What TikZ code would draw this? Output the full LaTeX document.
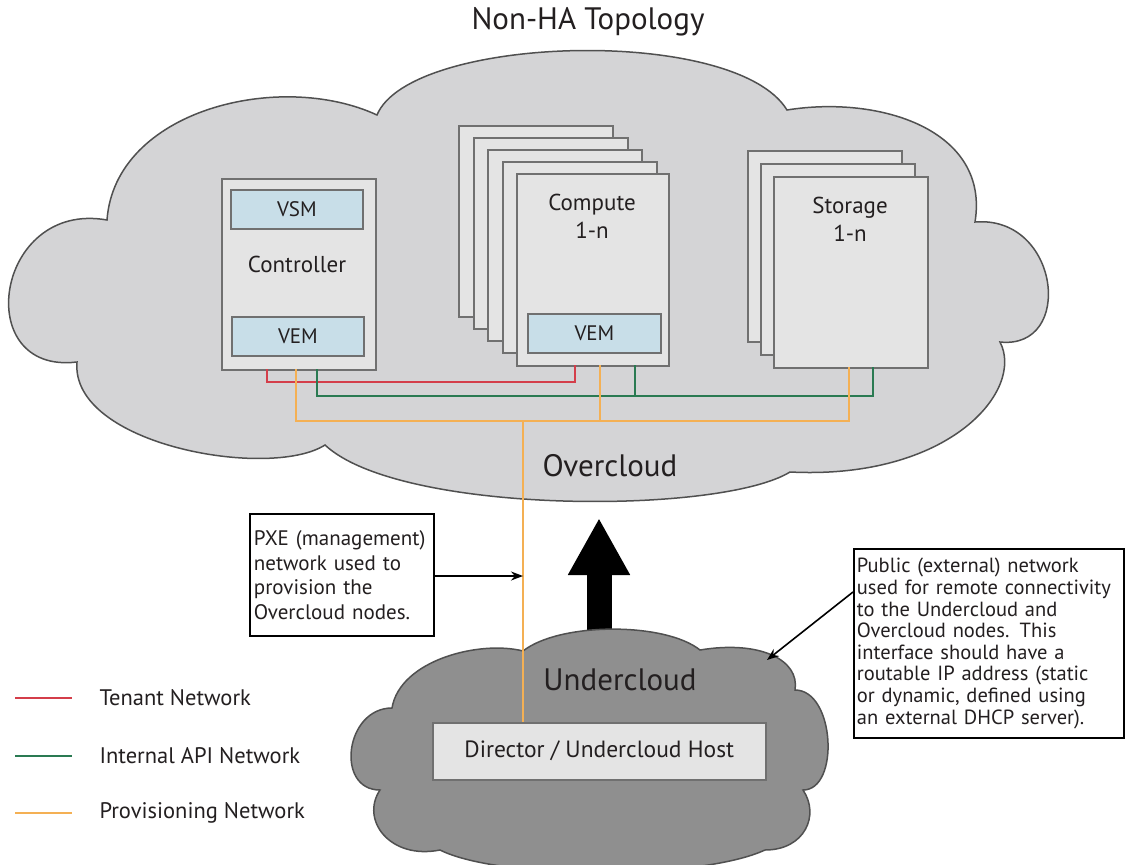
\documentclass[tikz,border=0pt]{standalone}
\usepackage{fontspec}
\setmainfont{PT Sans}
\usetikzlibrary{arrows.meta,calc}
\definecolor{txt}{RGB}{35,31,32}
\definecolor{ocfill}{RGB}{212,212,214}
\definecolor{ucfill}{RGB}{143,143,143}
\definecolor{cloudline}{RGB}{80,80,80}
\definecolor{boxfill}{RGB}{228,228,228}
\definecolor{boxline}{RGB}{112,112,112}
\definecolor{vfill}{RGB}{200,222,232}
\definecolor{tenantc}{RGB}{212,62,74}
\definecolor{apic}{RGB}{42,122,82}
\definecolor{provc}{RGB}{244,176,84}
\tikzset{
  server/.style={draw=boxline, line width=2pt, fill=boxfill, anchor=north west,
    minimum width=154pt, minimum height=191pt, inner sep=0pt},
  vbox/.style={draw=boxline, line width=1.8pt, fill=vfill, anchor=north west,
    minimum width=132pt, minimum height=39pt, inner sep=0pt, text=txt,
    font=\fontsize{21}{24}\selectfont},
  lbl/.style={text=txt, font=\fontsize{23}{28}\selectfont, align=center},
  bigl/.style={text=txt, font=\fontsize{31}{36}\selectfont},
  note/.style={draw=black, line width=1.8pt, fill=white, anchor=north west,
    align=left, text=txt, inner sep=0pt},
  tenant/.style={draw=tenantc, line width=2.6pt},
  api/.style={draw=apic, line width=2.6pt},
  prov/.style={draw=provc, line width=2.2pt},
  pointer/.style={draw=black, line width=1.6pt, -{Stealth[length=12pt,width=9pt]}},
  legtxt/.style={text=txt, anchor=west, font=\fontsize{22.5}{26}\selectfont}
}
\begin{document}
\begin{tikzpicture}[x=1pt,y=-1pt]
\useasboundingbox (0,0) rectangle (1128,865);
\clip (0,0) rectangle (1128,865);
\fill[white] (0,0) rectangle (1128,865);

% title
\node[bigl] (title) at (588,22) {Non-HA Topology};

% overcloud
\path[draw=cloudline, fill=ocfill, line width=1.5pt]
  (77,362) .. controls (-30,375) and (-5,200) .. (107,220)
  .. controls (115,110) and (280,70) .. (377,115)
  .. controls (410,35) and (735,25) .. (787,110)
  .. controls (880,95) and (990,130) .. (975,222)
  .. controls (1060,215) and (1075,350) .. (1000,342)
  .. controls (1025,390) and (950,480) .. (790,472)
  .. controls (720,515) and (400,515) .. (325,445)
  .. controls (270,480) and (70,445) .. (77,362) -- cycle;

% controller
\node[server] (ctrl) at (221,178) {};
\node[vbox] (vsm) at (230,189) {VSM};
\node[vbox] (cvem) at (231,316) {VEM};
\node[lbl] (ctrllbl) at (297,264) {Controller};

% compute stack
\node[server] (comp1) at (458,125) {};
\node[server] (comp2) at (473,137) {};
\node[server] (comp3) at (487,149) {};
\node[server] (comp4) at (502,161) {};
\node[server, minimum width=152pt, minimum height=192pt] (comp) at (516,173) {};
\node[lbl] (complbl) at (592,216) {Compute\\1-n};
\node[vbox, minimum width=133pt] (compvem) at (527,313) {VEM};

% storage stack
\node[server] (stor1) at (747,150) {};
\node[server] (stor2) at (760,163) {};
\node[server] (stor) at (773,176) {};
\node[lbl] (storlbl) at (850,219) {Storage\\1-n};

% attachment points
\coordinate (ctrlT) at (267,369);
\coordinate (ctrlP) at (296,369);
\coordinate (ctrlA) at (317,369);
\coordinate (compT) at (575,365);
\coordinate (compP) at (600,365);
\coordinate (compA) at (635,365);
\coordinate (storP) at (849,367);
\coordinate (storA) at (873,367);
\coordinate (provJ) at (523,421);

% networks
\draw[tenant] (ctrlT) -- ++(0,13) -| (compT);
\draw[api] (ctrlA) -- ++(0,27) -| (storA);
\draw[api] (compA) -- (compA |- 0,396);
\draw[prov] (ctrlP) -- ++(0,52) -| (storP);
\draw[prov] (compP) -- (compP |- provJ);

\node[bigl] (oclbl) at (610,466) {Overcloud};

% big arrow undercloud -> overcloud
\coordinate (arrS) at (599,645);
\coordinate (arrE) at (599,518);
\draw[line width=25pt, -{Triangle[length=57pt,width=58pt]}] (arrS) -- (arrE);

% undercloud
\path[draw=cloudline, fill=ucfill, line width=1.5pt]
  (380,790) .. controls (335,790) and (345,708) .. (392,708)
  .. controls (400,660) and (480,640) .. (523,651)
  .. controls (560,622) and (665,622) .. (700,650)
  .. controls (760,640) and (800,660) .. (795,690)
  .. controls (835,690) and (840,790) .. (803,790)
  .. controls (820,815) and (805,850) .. (765,850)
  .. controls (700,880) and (500,880) .. (440,850)
  .. controls (390,860) and (360,820) .. (380,790) -- cycle;
\coordinate (ucEdge) at (767,660);

\node[bigl] (uclbl) at (620,680) {Undercloud};
\node[draw=boxline, line width=1.5pt, fill=boxfill, anchor=north west,
  minimum width=333pt, minimum height=57pt, inner sep=0pt, text=txt,
  font=\fontsize{23.5}{28}\selectfont] (dir) at (432,722) {Director / Undercloud Host};

% provisioning trunk down to director
\draw[prov] (provJ) -- (provJ |- dir.north);

% PXE note
\node[note, minimum width=184pt, minimum height=122pt, text width=176pt,
  inner xsep=4pt, font=\fontsize{21}{24.5}\selectfont] (pxe) at (249,513)
  {PXE (management)\\network used to\\provision the\\Overcloud nodes.};
\draw[pointer] (pxe.east |- 0,576) -- (provJ |- 0,576);

% public note
\node[note, minimum width=270pt, minimum height=189pt, text width=264pt,
  inner xsep=3pt, font=\fontsize{20.5}{21.6}\selectfont] (pub) at (853,548)
  {Public (external) network\\used for remote connectivity\\to the Undercloud and\\Overcloud nodes. This\\interface should have a\\routable IP address (static\\or dynamic, defined using\\an external DHCP server).};
\draw[pointer] (pub.west |- 0,592) -- (ucEdge);

% legend
\coordinate (l1a) at (15,698); \coordinate (l1b) at (72,698);
\coordinate (l2a) at (15,756); \coordinate (l2b) at (72,756);
\coordinate (l3a) at (15,813); \coordinate (l3b) at (72,813);
\draw[tenant, line width=2pt] (l1a) -- (l1b);
\draw[api, line width=2pt] (l2a) -- (l2b);
\draw[prov, line width=2pt] (l3a) -- (l3b);
\node[legtxt] (leg1) at (96,698) {Tenant Network};
\node[legtxt] (leg2) at (96,756) {Internal API Network};
\node[legtxt] (leg3) at (96,813) {Provisioning Network};
\end{tikzpicture}
\end{document}
